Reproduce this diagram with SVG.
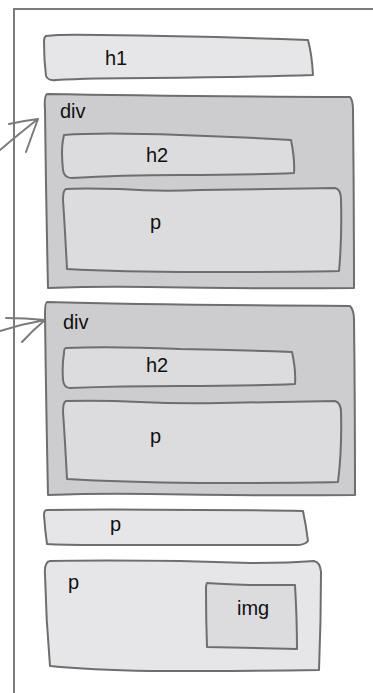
<svg xmlns="http://www.w3.org/2000/svg" width="373" height="693" viewBox="0 0 373 693">
<style>
.frame{fill:none;stroke:#7b7b7b;stroke-width:2}
.b{stroke:#6e6e6e;stroke-width:2;stroke-linejoin:round;stroke-linecap:round}
.light{fill:#e6e6e8}
.inner{fill:#dcdcde}
.dark{fill:#cdcdcf}
.arr{fill:none;stroke:#7b7b7b;stroke-width:2;stroke-linecap:round}
text{font-family:"Liberation Sans",Arial,sans-serif;font-size:20px;fill:#111}
</style>
<rect width="373" height="693" fill="#ffffff"/>
<g id="page">
<path class="frame" d="M14 693 L14 9 L373 9"/>
</g>
<g id="connectors">
<path class="arr" d="M0 150 Q20 133 38 119 M38 119 Q22 121 9 124 M38 119 Q32 135 26 152"/>
<path class="arr" d="M0 331 Q22 324 45 320 M45 320 Q25 318 6 318 M45 320 Q32 331 22 342"/>
</g>
<g id="h1">
<path class="b light" d="M46 36 Q60 34 100 35 Q200 36 308 40 Q312 55 313 75 Q250 77 150 78 Q90 78 56 80 Q48 81 46 76 Q44 60 44 42 Q44 37 46 36 Z"/>
<text x="105" y="65">h1</text>
</g>
<g id="div1">
<path class="b dark" d="M47 94 Q150 96 350 97 Q353 100 353 110 Q354 200 354 288 Q250 289 150 287 Q100 286 48 288 Q46 200 45 110 Q44 96 47 94 Z"/>
<text x="60" y="118">div</text>
<g id="div1-h2">
<path class="b inner" d="M64 135 Q100 132 180 135 Q240 137 291 140 Q295 160 294 173 Q250 175 180 175 Q120 175 72 178 Q64 178 63 170 Q61 150 63 140 Z"/>
<text x="146" y="162">h2</text>
</g>
<g id="div1-p">
<path class="b inner" d="M66 189 Q80 188 120 189 Q160 192 200 190 Q260 189 335 188 Q341 189 341 200 Q342 240 339 271 Q300 272 200 272 Q120 272 67 269 Q65 230 63 200 Q63 190 66 189 Z"/>
<text x="150" y="229">p</text>
</g>
</g>
<g id="div2">
<path class="b dark" d="M47 302 Q150 305 350 306 Q354 310 354 320 Q355 400 355 495 Q250 496 150 494 Q100 493 48 495 Q46 400 45 315 Q45 302 47 302 Z"/>
<text x="63" y="329">div</text>
<g id="div2-h2">
<path class="b inner" d="M66 348 Q110 346 180 349 Q240 350 292 352 Q296 370 295 384 Q250 386 180 386 Q120 386 70 388 Q64 388 63 380 Q62 365 64 353 Q64 348 66 348 Z"/>
<text x="146" y="372">h2</text>
</g>
<g id="div2-p">
<path class="b inner" d="M66 401 Q100 400 140 402 Q180 404 220 403 Q290 402 335 401 Q341 403 341 412 Q342 450 338 482 Q300 483 200 483 Q120 482 67 479 Q65 440 63 412 Q63 402 66 401 Z"/>
<text x="150" y="443">p</text>
</g>
</g>
<g id="p3">
<path class="b light" d="M47 510 Q100 509 200 510 Q270 510 303 511 Q306 525 308 541 Q305 545 296 545 Q200 545 100 545 Q60 545 47 544 Q45 530 44 515 Q44 510 47 510 Z"/>
<text x="110" y="531">p</text>
</g>
<g id="p4">
<path class="b light" d="M50 561 Q100 560 180 561 Q220 562 250 563 Q290 563 314 561 Q320 562 321 572 Q321 620 319 670 Q250 671 150 671 Q90 670 50 666 Q46 620 45 575 Q44 562 50 561 Z"/>
<text x="68" y="589">p</text>
<g id="img">
<path class="b inner" d="M207 583 Q220 584 250 585 Q280 585 295 585 Q297 620 297 649 Q250 648 207 647 Q206 620 206 590 Q206 583 207 583 Z"/>
<text x="237" y="615">img</text>
</g>
</g>
</svg>
